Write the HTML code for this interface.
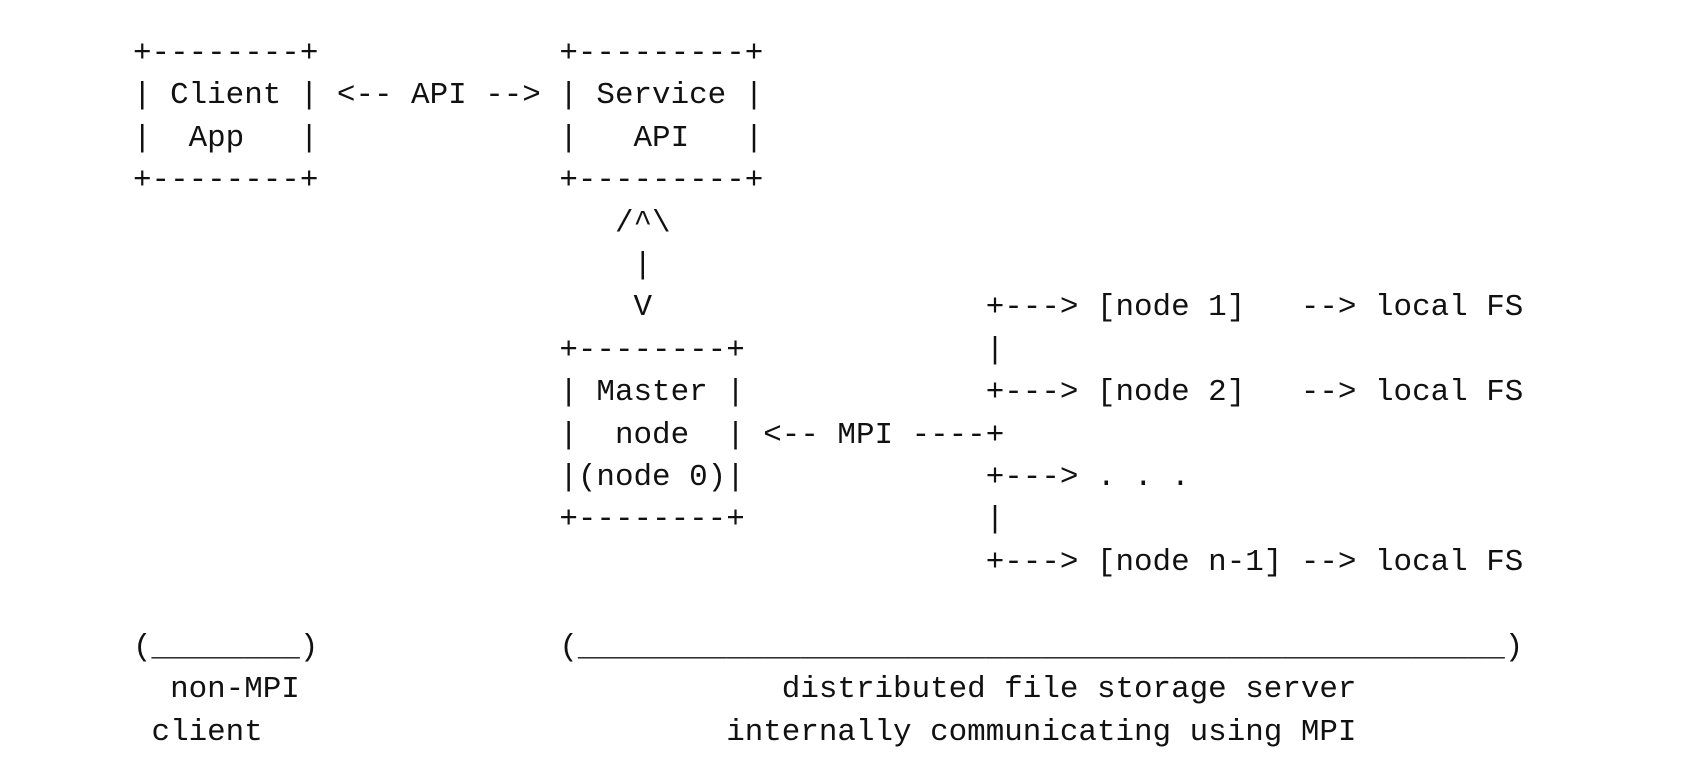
<!DOCTYPE html>
<html><head><meta charset="utf-8"><style>
html,body{margin:0;padding:0;background:#fff;width:1704px;height:782px;overflow:hidden}
pre{position:absolute;left:133px;top:33px;margin:0;font-family:"Liberation Mono",monospace;font-size:30.9px;line-height:42.4px;color:#111;letter-spacing:0}
</style></head><body>
<pre>+--------+             +---------+
| Client | &lt;-- API --&gt; | Service |
|  App   |             |   API   |
+--------+             +---------+
                          /^\
                           |
                           V                  +---&gt; [node 1]   --&gt; local FS
                       +--------+             |
                       | Master |             +---&gt; [node 2]   --&gt; local FS
                       |  node  | &lt;-- MPI ----+
                       |(node 0)|             +---&gt; . . .
                       +--------+             |
                                              +---&gt; [node n-1] --&gt; local FS

(________)             (__________________________________________________)
  non-MPI                          distributed file storage server
 client                         internally communicating using MPI</pre>
</body></html>
